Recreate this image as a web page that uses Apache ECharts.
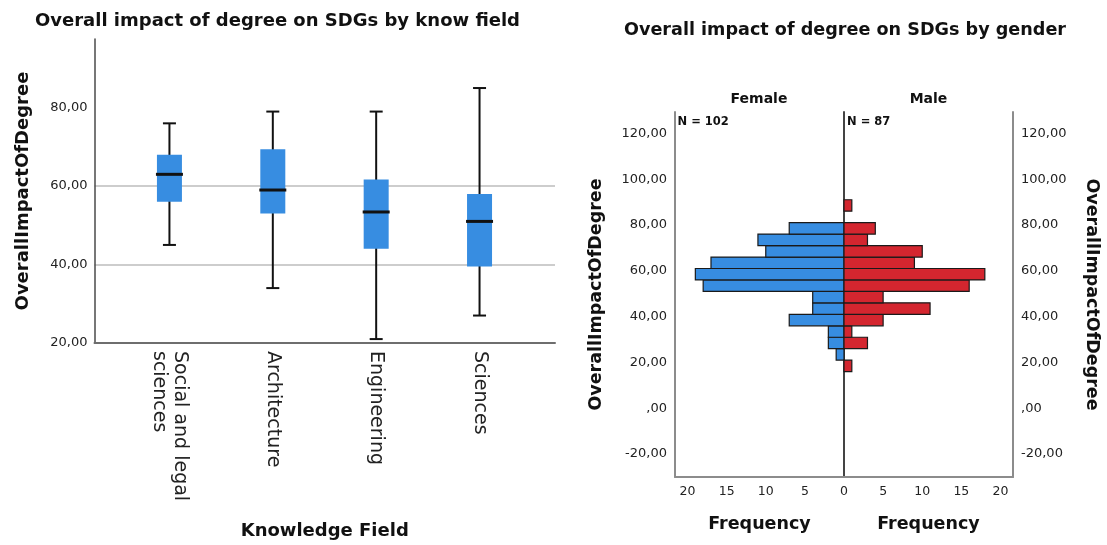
<!DOCTYPE html>
<html><head><meta charset="utf-8">
<script src="https://cdn.jsdelivr.net/npm/echarts@6/dist/echarts.min.js"></script>
<style>html,body{margin:0;padding:0;background:#fff}#c{width:1107px;height:545px}</style>
</head><body><div id="c"></div>
<script>
// ---- Box plot data (Overall impact by knowledge field) ----
const categories = ['Social and legal\nsciences', 'Architecture', 'Engineering', 'Sciences'];
const boxMin    = [45, 34, 21, 27];
const boxQ1     = [56, 53, 44, 39.5];
const boxMedian = [63, 59, 53.4, 51];
const boxQ3     = [68, 69.4, 61.7, 58];
const boxMax    = [76, 79, 79, 85];
const boxYTicks = [20, 40, 60, 80];

// ---- Population pyramid histogram (by gender) ----
const binEdges     = [16, 21, 26, 31, 36, 41, 46, 51, 56, 61, 66, 71, 76, 81, 86, 91];
const femaleCounts = [0, 1, 2, 2, 7, 4, 4, 18, 19, 17, 10, 11, 7, 0, 0];
const maleCounts   = [1, 0, 3, 1, 5, 11, 5, 16, 18, 9, 10, 3, 4, 0, 1];
const histYTicks   = [-20, 0, 20, 40, 60, 80, 100, 120];
const femaleXTicks = [5, 10, 15, 20];
const maleXTicks   = [0, 5, 10, 15, 20];
const femaleN = 102, maleN = 87;

const FONT = 'DejaVu Sans';
const BLUE = '#378de1', RED = '#d4262f';
const fmt = v => v === 0 ? ',00' : v.toFixed(2).replace('.', ',');

const boxData = categories.map((c, i) => [i, boxMin[i], boxQ1[i], boxMedian[i], boxQ3[i], boxMax[i]]);
const femaleData = femaleCounts.map((n, i) => [binEdges[i], binEdges[i + 1], n]);
const maleData = maleCounts.map((n, i) => [binEdges[i], binEdges[i + 1], n]);

function renderBox(params, api) {
  const x = api.value(0);
  const pMin = api.coord([x, api.value(1)]);
  const pQ1 = api.coord([x, api.value(2)]);
  const pMed = api.coord([x, api.value(3)]);
  const pQ3 = api.coord([x, api.value(4)]);
  const pMax = api.coord([x, api.value(5)]);
  const bw = 25, cw = 13, cx = pMed[0];
  const ln = (x1, y1, x2, y2, w) => ({type: 'line', shape: {x1, y1, x2, y2}, style: {stroke: '#111', lineWidth: w}});
  return {type: 'group', children: [
    ln(cx, pMin[1], cx, pMax[1], 2),
    ln(cx - cw / 2, pMin[1], cx + cw / 2, pMin[1], 2),
    ln(cx - cw / 2, pMax[1], cx + cw / 2, pMax[1], 2),
    {type: 'rect', shape: {x: cx - bw / 2, y: pQ3[1], width: bw, height: pQ1[1] - pQ3[1]}, style: {fill: BLUE}},
    ln(cx - bw / 2 - 1, pMed[1], cx + bw / 2 + 1, pMed[1], 3)
  ]};
}
function makeHist(color) {
  return function (params, api) {
    const n = api.value(2);
    if (!n) return null;
    const a = api.coord([0, api.value(0)]);
    const b = api.coord([n, api.value(1)]);
    return {type: 'rect', shape: {x: Math.min(a[0], b[0]), y: Math.min(a[1], b[1]), width: Math.abs(b[0] - a[0]), height: Math.abs(b[1] - a[1])},
      style: {fill: color, stroke: '#1a1a1a', lineWidth: 1.2}};
  };
}

const tickLbl = {fontFamily: FONT, fontSize: 13, color: '#222'};
const nameStyle = {fontFamily: FONT, fontSize: 18, fontWeight: 'bold', color: '#111'};
const histName = Object.assign({}, nameStyle, {fontSize: 17.5});

const chart = echarts.init(document.getElementById('c'), null, {renderer: 'canvas'});
chart.setOption({
  animation: false,
  backgroundColor: '#fff',
  graphic: [
    {type: 'text', x: 277.5, y: 21, style: {text: 'Overall impact of degree on SDGs by know field', align: 'center', verticalAlign: 'middle', font: 'bold 18px "DejaVu Sans"', fill: '#111'}},
    {type: 'text', x: 845, y: 30, style: {text: 'Overall impact of degree on SDGs by gender', align: 'center', verticalAlign: 'middle', font: 'bold 17.6px "DejaVu Sans"', fill: '#111'}},
    {type: 'text', x: 759, y: 99, style: {text: 'Female', align: 'center', verticalAlign: 'middle', font: 'bold 14px "DejaVu Sans"', fill: '#111'}},
    {type: 'text', x: 928.5, y: 99, style: {text: 'Male', align: 'center', verticalAlign: 'middle', font: 'bold 14px "DejaVu Sans"', fill: '#111'}},
    {type: 'text', x: 677.5, y: 122, style: {text: 'N = ' + femaleN, align: 'left', verticalAlign: 'middle', font: 'bold 11.5px "DejaVu Sans"', fill: '#111'}},
    {type: 'text', x: 847, y: 122, style: {text: 'N = ' + maleN, align: 'left', verticalAlign: 'middle', font: 'bold 11.5px "DejaVu Sans"', fill: '#111'}}
  ],
  grid: [
    {left: 94.5, top: 39, width: 460.5, height: 306},
    {left: 675, top: 112, width: 169, height: 365},
    {left: 844, top: 112, width: 169, height: 365}
  ],
  xAxis: [
    {type: 'value', gridIndex: 0, min: -0.725, max: 3.73,
      axisLine: {show: true, onZero: false, lineStyle: {color: '#6e6e6e', width: 2}},
      axisTick: {show: false, customValues: [0, 1, 2, 3]},
      splitLine: {show: false},
      axisLabel: {customValues: [0, 1, 2, 3], formatter: v => categories[Math.round(v)], rotate: -90, margin: 8,
        fontFamily: FONT, fontSize: 19, lineHeight: 21, color: '#222'},
      name: 'Knowledge Field', nameLocation: 'middle', nameGap: 179, nameTextStyle: nameStyle},
    {type: 'value', gridIndex: 1, min: 0, max: 21.6, inverse: true,
      axisLine: {show: true, onZero: false, lineStyle: {color: '#8c8c8c', width: 2}},
      axisTick: {show: false, customValues: femaleXTicks},
      splitLine: {show: false},
      axisLabel: {customValues: femaleXTicks, margin: 8, fontFamily: FONT, fontSize: 12.5, color: '#222'},
      name: 'Frequency', nameLocation: 'middle', nameGap: 38, nameTextStyle: histName},
    {type: 'value', gridIndex: 2, min: 0, max: 21.6,
      axisLine: {show: true, onZero: false, lineStyle: {color: '#8c8c8c', width: 2}},
      axisTick: {show: false, customValues: maleXTicks},
      splitLine: {show: false},
      axisLabel: {customValues: maleXTicks, margin: 8, fontFamily: FONT, fontSize: 12.5, color: '#222'},
      name: 'Frequency', nameLocation: 'middle', nameGap: 38, nameTextStyle: histName}
  ],
  yAxis: [
    {type: 'value', gridIndex: 0, min: 20, max: 97.5, interval: 20,
      axisLine: {show: true, onZero: false, lineStyle: {color: '#4a4a4a', width: 1.5}},
      axisTick: {show: false, customValues: boxYTicks},
      splitLine: {show: true, showMaxLine: false, lineStyle: {color: '#cdcdcd', width: 2}},
      axisLabel: {customValues: boxYTicks, formatter: fmt, margin: 7, ...tickLbl},
      name: 'OverallImpactOfDegree', nameLocation: 'middle', nameGap: 62, nameTextStyle: nameStyle},
    {type: 'value', gridIndex: 1, min: -30, max: 129.3, position: 'left',
      axisLine: {show: true, onZero: false, lineStyle: {color: '#8c8c8c', width: 2}},
      axisTick: {show: false, customValues: histYTicks},
      splitLine: {show: false},
      axisLabel: {customValues: histYTicks, formatter: fmt, margin: 8, ...tickLbl},
      name: 'OverallImpactOfDegree', nameLocation: 'middle', nameGap: 70, nameTextStyle: histName},
    {type: 'value', gridIndex: 2, min: -30, max: 129.3, position: 'left',
      axisLine: {show: true, onZero: false, lineStyle: {color: '#444', width: 2}},
      axisTick: {show: false}, splitLine: {show: false}, axisLabel: {show: false}},
    {type: 'value', gridIndex: 2, min: -30, max: 129.3, position: 'right',
      axisLine: {show: true, onZero: false, lineStyle: {color: '#8c8c8c', width: 2}},
      axisTick: {show: false, customValues: histYTicks},
      splitLine: {show: false},
      axisLabel: {customValues: histYTicks, formatter: fmt, margin: 8, ...tickLbl},
      name: 'OverallImpactOfDegree', nameLocation: 'middle', nameGap: 70, nameRotate: -90, nameTextStyle: histName}
  ],
  series: [
    {type: 'custom', name: 'Knowledge field', xAxisIndex: 0, yAxisIndex: 0, data: boxData, renderItem: renderBox,
      encode: {x: 0, y: [1, 2, 3, 4, 5]}},
    {type: 'custom', name: 'Female', xAxisIndex: 1, yAxisIndex: 1, data: femaleData, renderItem: makeHist(BLUE),
      encode: {x: 2, y: [0, 1]}},
    {type: 'custom', name: 'Male', xAxisIndex: 2, yAxisIndex: 2, data: maleData, renderItem: makeHist(RED),
      encode: {x: 2, y: [0, 1]}}
  ]
});
</script></body></html>
